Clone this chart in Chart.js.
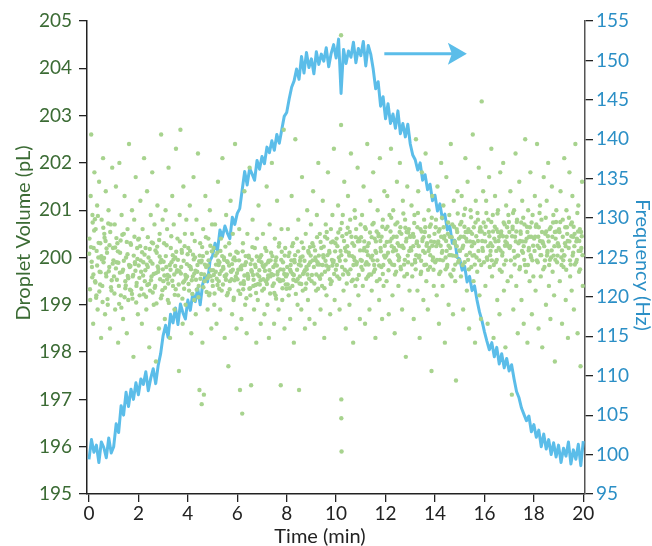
<!DOCTYPE html>
<html>
<head>
<meta charset="utf-8">
<script src="https://cdn.jsdelivr.net/npm/chart.js@4.4.1/dist/chart.umd.min.js"></script>
<style>
  html, body { margin: 0; padding: 0; background: #fff; }
</style>
</head>
<body>
<canvas id="chart" width="652" height="546"></canvas>
<script>
// tick labels
const timeTicks = [0, 2, 4, 6, 8, 10, 12, 14, 16, 18, 20];
const volumeTicks = [195, 196, 197, 198, 199, 200, 201, 202, 203, 204, 205];
const freqTicks = [95, 100, 105, 110, 115, 120, 125, 130, 135, 140, 145, 150, 155];

// frequency trace (Hz), sampled every 0.1 min
const freqTime = [
  0.0, 0.1, 0.2, 0.3, 0.4, 0.5, 0.6, 0.7, 0.8, 0.9,
  1.0, 1.1, 1.2, 1.3, 1.4, 1.5, 1.6, 1.7, 1.8, 1.9,
  2.0, 2.1, 2.2, 2.3, 2.4, 2.5, 2.6, 2.7, 2.8, 2.9,
  3.0, 3.1, 3.2, 3.3, 3.4, 3.5, 3.6, 3.7, 3.8, 3.9,
  4.0, 4.1, 4.2, 4.3, 4.4, 4.5, 4.6, 4.7, 4.8, 4.9,
  5.0, 5.1, 5.2, 5.3, 5.4, 5.5, 5.6, 5.7, 5.8, 5.9,
  6.0, 6.1, 6.2, 6.3, 6.4, 6.5, 6.6, 6.7, 6.8, 6.9,
  7.0, 7.1, 7.2, 7.3, 7.4, 7.5, 7.6, 7.7, 7.8, 7.9,
  8.0, 8.1, 8.2, 8.3, 8.4, 8.5, 8.6, 8.7, 8.8, 8.9,
  9.0, 9.1, 9.2, 9.3, 9.4, 9.5, 9.6, 9.7, 9.8, 9.9,
  10.0, 10.1, 10.2, 10.3, 10.4, 10.5, 10.6, 10.7, 10.8, 10.9,
  11.0, 11.1, 11.2, 11.3, 11.4, 11.5, 11.6, 11.7, 11.8, 11.9,
  12.0, 12.1, 12.2, 12.3, 12.4, 12.5, 12.6, 12.7, 12.8, 12.9,
  13.0, 13.1, 13.2, 13.3, 13.4, 13.5, 13.6, 13.7, 13.8, 13.9,
  14.0, 14.1, 14.2, 14.3, 14.4, 14.5, 14.6, 14.7, 14.8, 14.9,
  15.0, 15.1, 15.2, 15.3, 15.4, 15.5, 15.6, 15.7, 15.8, 15.9,
  16.0, 16.1, 16.2, 16.3, 16.4, 16.5, 16.6, 16.7, 16.8, 16.9,
  17.0, 17.1, 17.2, 17.3, 17.4, 17.5, 17.6, 17.7, 17.8, 17.9,
  18.0, 18.1, 18.2, 18.3, 18.4, 18.5, 18.6, 18.7, 18.8, 18.9,
  19.0, 19.1, 19.2, 19.3, 19.4, 19.5, 19.6, 19.7, 19.8, 19.9,
  20.0
];
const freqHz = [
  99.4, 101.9, 100.3, 101.2, 99.0, 101.6, 100.9, 99.6, 102.1, 100.2,
  101.0, 103.9, 102.8, 106.2, 105.0, 107.9, 106.1, 108.3, 107.0, 109.1,
  107.6, 109.6, 108.9, 110.5, 108.1, 109.7, 110.9, 109.0, 111.3, 112.8,
  115.1, 116.4, 114.9, 117.8, 116.7, 118.6, 116.5, 119.1, 118.0, 117.2,
  119.6, 118.3, 120.4, 119.4, 121.1, 119.0, 121.6, 122.8, 121.9, 124.6,
  125.2, 126.8, 125.9, 128.5, 127.6, 129.0, 128.1, 127.4, 130.1, 129.2,
  130.6, 131.2, 133.6, 135.9, 134.2, 136.3, 135.6, 134.8, 137.3, 136.2,
  137.8, 136.9, 139.0, 138.3, 139.8, 138.6, 140.6, 139.5, 141.2, 142.9,
  143.4, 145.1, 146.6, 147.4, 148.9, 147.6, 150.5, 148.4, 151.0, 149.1,
  150.2, 148.3, 151.1, 149.5, 150.8, 149.9, 151.6, 149.2, 150.9, 152.0,
  150.3, 152.7, 145.8, 151.4, 149.6, 151.2, 150.4, 152.3, 149.7, 151.5,
  150.6, 152.4, 149.3, 151.9, 150.8, 148.9, 146.4, 147.3, 144.2, 145.4,
  142.6, 144.5, 142.0, 143.2, 141.4, 143.6, 140.7, 142.0, 140.3, 141.9,
  139.4, 138.0, 137.4, 136.1, 137.0, 134.8, 135.5, 133.6, 134.3, 132.2,
  132.9, 130.9, 131.8, 129.9, 130.5, 128.5, 129.0, 126.8, 127.2, 125.0,
  124.8, 123.4, 123.9, 121.9, 122.6, 120.8, 121.4, 119.6, 118.1, 117.0,
  115.6, 114.4, 113.3, 114.2, 112.4, 113.6, 111.5, 112.8, 111.0, 112.2,
  110.6, 111.4, 109.6, 108.0, 107.2, 105.9, 105.1, 104.3, 104.9, 102.9,
  103.8, 102.2, 103.1, 101.0, 102.6, 100.7, 101.9, 100.0, 101.5, 99.7,
  101.2, 99.0, 100.8, 99.8, 101.6, 98.8, 100.6, 99.4, 101.3, 98.6,
  101.7
];

// droplet volume samples [time (min), volume (pL)], outer part of the cloud
const volumePoints = [
  [0.02,200.4],[0.05,199.1],[0.07,201.3],[0.09,202.6],[0.12,199.8],[0.14,200.9],[0.17,198.6],[0.19,200.2],[0.22,201.8],[0.25,199.5],[0.27,200.6],[0.30,199.2],
  [0.33,201.1],[0.35,198.9],[0.38,200.0],[0.41,201.6],[0.43,199.7],[0.46,200.3],[0.49,198.3],[0.51,200.8],[0.54,199.4],[0.57,202.1],[0.59,199.9],[0.62,200.5],
  [0.65,198.8],[0.68,201.4],[0.70,199.6],[0.73,200.1],[0.76,199.0],[0.79,201.0],[0.82,199.8],[0.85,198.5],[0.88,200.7],[0.91,199.3],[0.94,201.9],[0.97,200.2],
  [1.01,199.6],[1.04,200.7],[1.06,198.9],[1.09,201.5],[1.12,199.9],[1.15,200.3],[1.18,198.2],[1.21,199.4],[1.23,202.0],[1.26,200.1],[1.29,199.2],[1.32,200.9],
  [1.35,199.7],[1.38,198.7],[1.41,200.5],[1.44,201.3],[1.47,199.5],[1.50,200.0],[1.53,198.4],[1.56,200.6],[1.59,199.1],[1.62,202.4],[1.65,199.8],[1.68,200.3],
  [1.71,199.3],[1.74,201.0],[1.77,199.6],[1.80,197.9],[1.83,200.8],[1.86,199.9],[1.89,201.7],[1.92,199.4],[1.95,200.2],[1.98,198.8],
  [2.02,200.4],[2.05,199.2],[2.08,201.2],[2.11,199.7],[2.14,198.6],[2.17,200.6],[2.20,199.9],[2.23,202.1],[2.26,199.5],[2.29,200.2],[2.32,198.9],[2.35,201.4],
  [2.38,199.8],[2.41,200.0],[2.44,198.1],[2.47,199.3],[2.50,200.9],[2.53,199.6],[2.56,201.8],[2.59,200.3],[2.62,199.0],[2.65,200.7],[2.68,199.4],[2.71,197.8],
  [2.74,200.1],[2.77,201.1],[2.80,199.7],[2.83,198.5],[2.86,200.5],[2.89,199.9],[2.92,202.6],[2.95,199.2],[2.98,200.8],
  [3.01,199.5],[3.04,200.3],[3.07,198.7],[3.10,201.0],[3.13,199.8],[3.16,200.6],[3.19,199.1],[3.22,201.9],[3.25,199.6],[3.28,198.3],[3.31,200.2],[3.34,199.9],
  [3.37,201.3],[3.40,199.4],[3.43,200.7],[3.46,198.9],[3.49,200.0],[3.52,202.3],[3.55,199.7],[3.58,200.4],[3.61,199.2],[3.64,197.6],[3.67,200.9],[3.70,202.7],
  [3.73,199.8],[3.76,200.1],[3.79,198.6],[3.82,201.5],[3.85,199.5],[3.88,200.5],[3.91,199.0],[3.94,200.8],[3.97,199.6],
  [4.02,200.2],[4.05,199.3],[4.08,201.1],[4.11,199.8],[4.14,198.4],[4.17,200.5],[4.20,199.6],[4.23,201.7],[4.26,199.1],[4.29,200.0],[4.32,198.8],[4.35,200.8],
  [4.38,199.7],[4.41,202.2],[4.44,199.4],[4.47,197.2],[4.50,200.3],[4.53,199.9],[4.56,196.9],[4.59,198.2],[4.62,200.6],[4.65,197.1],[4.68,199.5],[4.71,201.3],
  [4.74,199.8],[4.77,200.1],[4.80,198.9],[4.83,200.4],[4.86,199.2],[4.89,201.0],[4.92,199.6],[4.95,198.5],[4.98,200.7],
  [5.01,199.4],[5.04,200.2],[5.07,199.0],[5.10,200.7],[5.13,199.7],[5.16,198.6],[5.19,200.1],[5.22,201.6],[5.25,199.5],[5.28,199.9],[5.31,198.9],[5.34,200.4],
  [5.37,199.3],[5.40,202.1],[5.43,199.8],[5.46,200.0],[5.49,198.3],[5.52,199.6],[5.55,200.9],[5.58,199.2],[5.61,199.9],[5.64,197.7],[5.67,200.3],[5.70,199.5],
  [5.73,201.2],[5.76,199.7],[5.79,198.8],[5.82,200.5],[5.85,199.1],[5.88,200.0],[5.91,202.4],[5.94,199.6],[5.97,198.5],
  [6.02,200.1],[6.05,199.3],[6.08,200.6],[6.11,197.2],[6.14,199.8],[6.17,198.7],[6.20,196.7],[6.23,200.3],[6.26,199.5],[6.29,201.4],[6.32,199.0],[6.35,199.9],
  [6.38,198.4],[6.41,200.5],[6.44,199.6],[6.47,200.0],[6.50,201.9],[6.53,199.2],[6.56,197.3],[6.59,199.7],[6.62,200.8],[6.65,199.4],[6.68,198.9],[6.71,200.2],
  [6.74,199.8],[6.77,198.2],[6.80,200.4],[6.83,199.1],[6.86,201.1],[6.89,199.6],[6.92,200.0],[6.95,198.6],[6.98,199.9],
  [7.01,199.3],[7.04,200.5],[7.07,199.8],[7.10,198.8],[7.13,200.2],[7.16,199.5],[7.19,201.5],[7.22,199.0],[7.25,199.9],[7.28,198.3],[7.31,200.7],[7.34,199.6],
  [7.37,200.1],[7.40,202.0],[7.43,199.4],[7.46,199.8],[7.49,198.6],[7.52,200.4],[7.55,199.2],[7.58,200.0],[7.61,201.2],[7.64,199.7],[7.67,198.9],[7.70,200.3],
  [7.73,199.5],[7.76,197.3],[7.79,200.6],[7.82,199.1],[7.85,199.9],[7.88,202.7],[7.91,198.5],[7.94,200.2],[7.97,199.6],
  [8.02,199.8],[8.05,200.6],[8.08,199.2],[8.11,200.1],[8.14,198.7],[8.17,199.7],[8.20,201.3],[8.23,199.4],[8.26,200.3],[8.29,198.2],[8.32,199.9],[8.35,202.5],
  [8.38,199.5],[8.41,200.4],[8.44,199.0],[8.47,200.8],[8.50,197.2],[8.53,199.6],[8.56,200.0],[8.59,198.9],[8.62,201.7],[8.65,199.3],[8.68,200.2],[8.71,199.7],
  [8.74,198.5],[8.77,200.5],[8.80,199.8],[8.83,201.0],[8.86,199.1],[8.89,200.1],[8.92,198.7],[8.95,199.9],[8.98,200.7],
  [9.01,199.5],[9.04,200.3],[9.07,201.4],[9.10,199.8],[9.13,198.6],[9.16,200.0],[9.19,199.3],[9.22,200.9],[9.25,199.9],[9.28,202.0],[9.31,199.6],[9.34,200.5],
  [9.37,198.9],[9.40,200.2],[9.43,199.4],[9.46,201.2],[9.49,200.0],[9.52,198.3],[9.55,199.7],[9.58,200.7],[9.61,199.2],[9.64,200.4],[9.67,201.8],[9.70,199.8],
  [9.73,200.1],[9.76,198.8],[9.79,200.6],[9.82,199.5],[9.85,200.9],[9.88,199.9],[9.91,202.3],[9.94,199.1],[9.97,200.3],
  [10.02,200.4],[10.05,199.6],[10.08,201.1],[10.11,200.0],[10.14,198.9],[10.17,200.6],[10.20,204.7],[10.20,202.8],[10.21,197.0],[10.21,196.6],[10.22,195.9],[10.24,199.8],
  [10.27,200.9],[10.30,199.3],[10.33,201.6],[10.36,200.2],[10.39,198.5],[10.42,200.5],[10.45,199.7],[10.48,201.3],[10.51,200.1],[10.54,199.0],[10.57,200.8],[10.60,202.2],
  [10.63,199.5],[10.66,200.3],[10.69,198.2],[10.72,200.0],[10.75,201.0],[10.78,199.4],[10.81,200.6],[10.84,199.9],[10.87,201.9],[10.90,199.2],[10.93,200.4],[10.96,198.7],[10.99,200.7],
  [11.02,199.8],[11.05,200.9],[11.08,199.4],[11.11,201.5],[11.14,200.2],[11.17,198.6],[11.20,200.6],[11.23,199.9],[11.26,202.4],[11.29,199.6],[11.32,200.3],[11.35,198.9],
  [11.38,201.2],[11.41,200.0],[11.44,199.3],[11.47,200.7],[11.50,201.8],[11.53,199.7],[11.56,200.4],[11.59,198.3],[11.62,200.1],[11.65,199.5],[11.68,201.0],[11.71,200.5],
  [11.74,199.1],[11.77,202.1],[11.80,200.2],[11.83,199.8],[11.86,198.7],[11.89,200.8],[11.92,199.4],[11.95,201.4],[11.98,200.0],
  [12.01,200.6],[12.04,199.5],[12.07,201.3],[12.10,200.1],[12.13,198.8],[12.16,200.9],[12.19,199.9],[12.22,202.3],[12.25,200.4],[12.28,199.2],[12.31,201.0],[12.34,200.2],
  [12.37,198.4],[12.40,200.7],[12.43,199.7],[12.46,201.6],[12.49,200.3],[12.52,199.4],[12.55,200.0],[12.58,202.0],[12.61,199.8],[12.64,200.5],[12.67,198.9],[12.70,201.2],
  [12.73,200.2],[12.76,199.6],[12.79,200.8],[12.82,197.9],[12.85,200.4],[12.88,201.5],[12.91,199.9],[12.94,200.6],[12.97,199.3],
  [13.02,200.2],[13.05,201.1],[13.08,199.6],[13.11,200.5],[13.14,198.7],[13.17,200.9],[13.20,199.9],[13.23,202.5],[13.26,200.3],[13.29,199.3],[13.32,201.4],[13.35,200.0],
  [13.38,198.3],[13.41,200.6],[13.44,199.7],[13.47,201.8],[13.50,200.4],[13.53,199.1],[13.56,200.8],[13.59,200.1],[13.62,202.2],[13.65,199.5],[13.68,200.3],[13.71,198.9],
  [13.74,201.0],[13.77,200.2],[13.80,199.8],[13.83,200.7],[13.86,197.6],[13.89,201.3],[13.92,200.0],[13.95,199.4],[13.98,200.5],
  [14.01,199.9],[14.04,200.8],[14.07,199.2],[14.10,201.5],[14.13,200.3],[14.16,198.6],[14.19,200.6],[14.22,199.7],[14.25,202.0],[14.28,200.1],[14.31,199.4],[14.34,201.1],
  [14.37,200.4],[14.40,198.2],[14.43,200.0],[14.46,201.7],[14.49,199.8],[14.52,200.5],[14.55,199.0],[14.58,200.9],[14.61,200.2],[14.64,202.4],[14.67,199.6],[14.70,200.7],
  [14.73,198.8],[14.76,201.2],[14.79,200.3],[14.82,199.5],[14.85,197.4],[14.88,200.6],[14.91,201.4],[14.94,199.9],[14.97,200.4],
  [15.02,200.7],[15.05,199.6],[15.08,201.3],[15.11,200.2],[15.14,198.9],[15.17,200.9],[15.20,199.9],[15.23,202.1],[15.26,200.4],[15.29,199.3],[15.32,201.6],[15.35,200.6],
  [15.38,198.5],[15.41,200.1],[15.44,201.0],[15.47,199.8],[15.50,200.5],[15.53,202.6],[15.56,199.5],[15.59,200.3],[15.62,198.2],[15.65,201.2],[15.68,200.0],[15.71,199.7],
  [15.74,200.8],[15.77,201.9],[15.80,199.2],[15.83,200.6],[15.86,198.7],[15.89,203.3],[15.92,200.2],[15.95,201.4],[15.98,199.9],
  [16.01,200.5],[16.04,199.4],[16.07,201.2],[16.10,200.0],[16.13,198.6],[16.16,200.8],[16.19,201.7],[16.22,199.8],[16.25,200.3],[16.28,202.3],[16.31,199.6],[16.34,200.9],
  [16.37,198.3],[16.40,200.4],[16.43,201.3],[16.46,199.9],[16.49,200.6],[16.52,199.1],[16.55,201.0],[16.58,200.2],[16.61,198.8],[16.64,201.8],[16.67,200.5],[16.70,199.7],
  [16.73,200.1],[16.76,202.0],[16.79,199.3],[16.82,200.7],[16.85,198.1],[16.88,201.1],[16.91,200.3],[16.94,199.5],[16.97,200.9],
  [17.02,200.2],[17.05,201.4],[17.08,199.6],[17.11,197.1],[17.14,200.6],[17.17,198.9],[17.20,201.0],[17.23,200.0],[17.26,202.2],[17.29,199.4],[17.32,200.8],[17.35,198.4],
  [17.38,200.3],[17.41,201.6],[17.44,199.8],[17.47,200.5],[17.50,199.1],[17.53,201.2],[17.56,200.1],[17.59,198.6],[17.62,200.7],[17.65,202.5],[17.68,199.7],[17.71,200.4],
  [17.74,198.2],[17.77,201.0],[17.80,200.2],[17.83,199.5],[17.86,201.8],[17.89,200.0],[17.92,198.8],[17.95,200.9],[17.98,199.6],
  [18.01,200.4],[18.04,201.3],[18.07,199.3],[18.10,200.7],[18.13,202.4],[18.16,199.9],[18.19,198.5],[18.22,200.2],[18.25,201.1],[18.28,199.6],[18.31,200.8],[18.34,198.1],
  [18.37,200.3],[18.40,201.7],[18.43,199.8],[18.46,200.5],[18.49,199.0],[18.52,201.2],[18.55,200.1],[18.58,202.0],[18.61,199.4],[18.64,200.6],[18.67,198.7],[18.70,200.0],
  [18.73,201.5],[18.76,199.7],[18.79,200.9],[18.82,199.2],[18.85,197.8],[18.88,200.4],[18.91,201.0],[18.94,199.9],[18.97,200.3],
  [19.02,200.6],[19.05,199.5],[19.08,201.4],[19.11,200.0],[19.14,198.6],[19.17,200.8],[19.20,199.8],[19.23,202.1],[19.26,200.3],[19.29,199.1],[19.32,201.0],[19.35,200.5],
  [19.38,198.3],[19.41,200.2],[19.44,201.8],[19.47,199.6],[19.50,200.7],[19.53,199.3],[19.56,201.3],[19.59,200.1],[19.62,198.9],[19.65,200.5],[19.68,202.4],[19.71,199.9],
  [19.74,200.4],[19.77,198.4],[19.80,201.1],[19.83,199.7],[19.86,200.6],[19.89,197.7],[19.92,200.2],[19.95,201.6],[19.98,199.4]
];

// droplet volume samples [time (min), volume (pL)], dense core of the cloud
const volumeCore = [
  [0.04,199.33],[0.21,200.57],[0.11,199.91],[0.36,200.88],[0.29,199.15],[0.08,200.22],[0.47,199.69],[0.15,200.74],[0.55,199.06],[0.33,199.83],[0.63,200.42],[0.26,199.47],
  [0.71,200.19],[0.42,199.28],[0.58,200.63],[0.80,199.71],[0.67,200.35],[0.92,199.52],[0.01,200.08],[0.18,199.64],[0.39,200.31],[0.52,199.96],[0.75,199.12],[0.86,200.54],
  [0.96,199.87],[0.24,200.81],[0.45,199.43],[0.61,199.99],[0.83,200.26],[0.13,199.58],[0.50,200.03],[0.89,199.37],[0.31,200.14],[0.69,199.66],[0.78,200.72],[0.99,199.94],
  [1.03,199.24],[1.17,200.13],[1.09,199.77],[1.28,200.36],[1.22,199.02],[1.41,199.93],[1.35,200.48],[1.49,199.41],[1.56,200.07],[1.44,199.16],[1.62,199.84],[1.70,200.27],
  [1.66,199.32],[1.79,199.63],[1.84,200.44],[1.91,199.05],[1.96,199.97],[1.13,199.53],[1.06,200.21],[1.25,199.68],[1.31,198.94],[1.38,199.74],[1.53,200.33],[1.59,199.56],
  [1.74,199.23],[1.81,200.04],[1.88,199.72],[1.99,200.38],[1.19,199.89],[1.47,199.35],[1.68,199.82],[1.93,199.46],[1.11,200.41],[1.57,199.61],[1.76,199.13],[1.86,199.86],
  [2.01,199.83],[2.12,199.34],[2.07,200.24],[2.19,199.62],[2.25,200.06],[2.31,199.17],[2.28,199.73],[2.38,200.43],[2.43,199.44],[2.49,199.92],[2.54,200.32],[2.58,199.26],
  [2.62,199.65],[2.69,200.15],[2.73,199.03],[2.78,199.81],[2.84,200.37],[2.88,199.54],[2.93,199.95],[2.97,199.31],[2.04,199.57],[2.15,200.11],[2.22,199.22],[2.34,199.85],
  [2.46,200.18],[2.51,199.52],[2.66,199.36],[2.76,200.23],[2.81,199.76],[2.91,199.14],[2.09,199.94],[2.36,199.42],[2.57,199.87],[2.71,199.67],[2.86,200.02],[2.99,199.75],
  [3.02,199.91],[3.08,199.36],[3.14,200.26],[3.18,199.63],[3.23,199.04],[3.27,199.84],[3.33,200.45],[3.37,199.51],[3.42,199.96],[3.47,199.21],[3.53,200.12],[3.57,199.73],
  [3.63,199.43],[3.68,200.34],[3.72,199.66],[3.78,199.13],[3.83,199.93],[3.87,200.24],[3.92,199.55],[3.96,199.86],[3.05,199.62],[3.11,200.03],[3.21,199.45],[3.30,199.74],
  [3.39,200.05],[3.45,199.64],[3.51,199.33],[3.60,199.95],[3.66,199.71],[3.75,200.16],[3.81,199.47],[3.90,199.63],[3.99,200.07],[3.16,199.54],[3.49,199.82],[3.85,199.34],
  [4.03,199.44],[4.09,200.14],[4.13,199.75],[4.18,199.23],[4.24,199.96],[4.28,200.35],[4.33,199.53],[4.39,199.84],[4.43,199.16],[4.48,200.04],[4.54,199.65],[4.58,200.22],
  [4.63,199.37],[4.69,199.85],[4.73,200.43],[4.79,199.56],[4.84,199.94],[4.88,199.24],[4.93,199.73],[4.97,200.13],[4.06,199.82],[4.16,199.52],[4.21,200.06],[4.31,199.72],
  [4.36,199.32],[4.46,199.92],[4.51,199.55],[4.61,200.03],[4.66,199.64],[4.76,199.27],[4.81,199.83],[4.91,200.25],[4.99,199.51],[4.26,199.66],[4.56,199.93],[4.86,199.62],
  [5.02,199.73],[5.08,199.24],[5.12,200.04],[5.17,199.55],[5.23,199.93],[5.27,199.34],[5.32,200.14],[5.36,199.72],[5.42,199.43],[5.47,199.95],[5.52,200.23],[5.56,199.64],
  [5.62,199.25],[5.67,199.83],[5.71,200.06],[5.77,199.54],[5.82,199.74],[5.86,199.15],[5.92,199.94],[5.96,200.12],[5.05,199.63],[5.14,199.85],[5.20,199.42],[5.29,199.65],
  [5.39,200.03],[5.44,199.76],[5.54,199.53],[5.59,199.92],[5.69,199.33],[5.74,199.71],[5.84,199.96],[5.89,199.52],[5.99,199.67],[5.25,199.84],[5.49,199.61],[5.79,199.86],
  [6.01,199.54],[6.07,199.94],[6.12,199.23],[6.16,199.75],[6.22,200.13],[6.27,199.44],[6.31,199.84],[6.37,199.14],[6.42,199.65],[6.46,200.04],[6.52,199.35],[6.57,199.73],
  [6.61,200.22],[6.66,199.53],[6.72,199.85],[6.76,199.25],[6.81,199.64],[6.87,199.93],[6.91,199.43],[6.97,200.05],[6.04,199.74],[6.14,199.45],[6.19,199.83],[6.29,199.62],
  [6.34,200.03],[6.44,199.55],[6.49,199.34],[6.59,199.95],[6.64,199.63],[6.74,199.42],[6.79,200.02],[6.89,199.73],[6.94,199.52],[6.24,199.33],[6.54,199.86],[6.84,199.44],
  [7.03,199.83],[7.08,199.34],[7.12,199.72],[7.18,200.14],[7.23,199.55],[7.27,199.93],[7.33,199.24],[7.38,199.65],[7.42,200.03],[7.48,199.45],[7.53,199.84],[7.57,199.13],
  [7.62,199.64],[7.68,200.23],[7.72,199.53],[7.78,199.95],[7.83,199.35],[7.87,199.74],[7.92,200.04],[7.96,199.43],[7.05,199.54],[7.15,199.85],[7.20,199.44],[7.30,199.73],
  [7.35,199.94],[7.45,199.63],[7.50,199.25],[7.60,199.83],[7.65,199.54],[7.75,199.75],[7.80,200.12],[7.90,199.65],[7.99,199.34],[7.25,199.62],[7.55,199.93],[7.85,199.52],
  [8.01,199.64],[8.07,200.03],[8.12,199.35],[8.16,199.84],[8.22,200.24],[8.27,199.53],[8.31,199.95],[8.37,199.23],[8.42,199.74],[8.46,200.13],[8.52,199.45],[8.57,199.83],
  [8.61,200.32],[8.66,199.65],[8.72,199.93],[8.76,199.34],[8.81,199.75],[8.87,200.14],[8.91,199.55],[8.97,200.04],[8.04,199.43],[8.14,199.74],[8.19,199.94],[8.29,199.63],
  [8.34,200.05],[8.44,199.54],[8.49,199.85],[8.59,199.44],[8.64,200.02],[8.74,199.73],[8.79,199.45],[8.89,199.84],[8.94,200.22],[8.24,199.65],[8.54,199.93],[8.84,199.64],
  [9.02,199.63],[9.08,200.24],[9.12,199.45],[9.18,199.94],[9.23,200.43],[9.27,199.34],[9.33,199.85],[9.37,200.33],[9.42,199.64],[9.48,200.05],[9.53,199.35],[9.57,199.93],
  [9.62,200.54],[9.68,199.75],[9.72,200.14],[9.78,199.44],[9.83,199.95],[9.87,200.34],[9.92,199.65],[9.96,200.13],[9.05,199.94],[9.15,200.15],[9.20,199.64],[9.30,200.04],
  [9.35,199.55],[9.45,199.84],[9.50,200.23],[9.60,199.83],[9.65,200.05],[9.75,199.54],[9.80,200.32],[9.90,199.93],[9.99,199.74],[9.25,199.85],[9.55,200.44],[9.85,199.83],
  [10.03,199.84],[10.09,200.53],[10.13,199.55],[10.18,200.14],[10.23,200.73],[10.28,199.64],[10.32,200.35],[10.38,199.94],[10.43,199.45],[10.47,200.63],[10.53,200.04],[10.58,199.75],
  [10.62,200.44],[10.68,199.53],[10.73,200.25],[10.77,200.84],[10.82,199.85],[10.88,200.34],[10.92,199.63],[10.97,200.15],[10.05,200.24],[10.15,199.93],[10.25,200.45],[10.35,199.74],
  [10.40,200.13],[10.50,199.65],[10.55,200.54],[10.65,200.03],[10.70,199.84],[10.80,200.43],[10.85,199.54],[10.95,200.35],[10.99,199.95],[10.21,200.05],[10.45,200.24],[10.75,199.94],
  [11.01,200.43],[11.07,199.74],[11.12,200.15],[11.17,200.64],[11.22,199.55],[11.27,200.24],[11.31,199.85],[11.37,200.53],[11.42,199.64],[11.46,200.04],[11.52,200.73],[11.57,199.75],
  [11.61,200.34],[11.67,199.94],[11.72,200.45],[11.76,199.54],[11.81,200.13],[11.87,200.65],[11.91,199.84],[11.97,200.25],[11.04,199.93],[11.14,200.34],[11.19,199.85],[11.29,200.05],
  [11.34,199.64],[11.44,200.43],[11.49,199.94],[11.59,200.14],[11.64,200.55],[11.74,199.83],[11.79,200.35],[11.89,199.65],[11.94,200.04],[11.24,200.13],[11.54,199.84],[11.84,200.44],
  [12.03,200.04],[12.08,200.65],[12.12,199.73],[12.18,200.34],[12.23,200.84],[12.27,199.85],[12.33,200.44],[12.38,199.64],[12.42,200.15],[12.48,200.74],[12.53,199.94],[12.57,200.54],
  [12.62,199.75],[12.68,200.25],[12.72,200.93],[12.78,199.95],[12.83,200.34],[12.87,199.65],[12.92,200.53],[12.96,200.14],[12.05,200.33],[12.15,199.94],[12.20,200.55],[12.30,200.13],
  [12.35,199.84],[12.45,200.44],[12.50,200.05],[12.60,200.64],[12.65,200.23],[12.75,199.85],[12.80,200.63],[12.90,200.04],[12.99,200.45],[12.25,200.24],[12.55,200.25],[12.85,200.54],
  [13.01,200.44],[13.07,199.85],[13.12,200.24],[13.16,200.73],[13.22,199.75],[13.27,200.34],[13.31,200.94],[13.37,200.04],[13.42,199.65],[13.46,200.55],[13.52,200.14],[13.57,199.84],
  [13.61,200.64],[13.66,200.25],[13.72,199.74],[13.76,200.45],[13.81,200.05],[13.87,200.84],[13.91,199.94],[13.97,200.33],[13.04,200.15],[13.14,200.44],[13.19,199.95],[13.29,200.64],
  [13.34,200.24],[13.44,199.93],[13.49,200.35],[13.59,200.54],[13.64,199.85],[13.74,200.14],[13.79,200.65],[13.89,200.25],[13.94,199.74],[13.24,200.05],[13.54,200.43],[13.84,200.34],
  [14.03,200.64],[14.08,199.95],[14.13,200.34],[14.17,199.65],[14.23,200.25],[14.28,200.84],[14.32,199.94],[14.38,200.45],[14.43,199.75],[14.47,200.14],[14.53,200.74],[14.58,200.05],
  [14.62,199.64],[14.68,200.43],[14.73,200.04],[14.77,200.65],[14.82,199.85],[14.88,200.24],[14.92,200.93],[14.97,199.94],[14.05,200.24],[14.15,200.55],[14.20,199.95],[14.30,200.14],
  [14.35,200.64],[14.45,200.35],[14.50,199.84],[14.60,200.44],[14.65,200.05],[14.75,199.74],[14.80,200.34],[14.90,200.54],[14.99,200.15],[14.25,200.44],[14.55,200.25],[14.85,200.03],
  [15.01,200.14],[15.07,200.75],[15.12,199.84],[15.17,200.44],[15.22,201.03],[15.27,200.05],[15.31,200.54],[15.37,199.75],[15.42,200.34],[15.46,200.85],[15.52,200.04],[15.57,200.64],
  [15.61,199.85],[15.67,200.45],[15.72,200.94],[15.76,200.14],[15.81,200.55],[15.87,199.84],[15.91,200.35],[15.97,200.74],[15.04,200.44],[15.14,200.25],[15.19,200.65],[15.29,200.34],
  [15.34,199.95],[15.44,200.54],[15.49,200.24],[15.59,200.05],[15.64,200.74],[15.74,200.35],[15.79,199.94],[15.89,200.55],[15.94,200.14],[15.24,200.54],[15.54,200.33],[15.84,200.64],
  [16.03,200.34],[16.08,200.94],[16.12,199.95],[16.18,200.54],[16.23,200.05],[16.28,200.75],[16.32,200.24],[16.38,199.84],[16.42,200.65],[16.48,200.14],[16.53,200.93],[16.57,200.35],
  [16.62,199.74],[16.68,200.55],[16.72,200.04],[16.78,200.74],[16.83,200.25],[16.87,199.94],[16.92,200.64],[16.96,200.24],[16.05,200.65],[16.15,200.24],[16.20,200.45],[16.30,199.94],
  [16.35,200.55],[16.45,200.34],[16.50,199.95],[16.60,200.44],[16.65,200.15],[16.75,200.45],[16.80,199.85],[16.90,200.44],[16.99,200.75],[16.25,200.14],[16.55,200.54],[16.85,200.34],
  [17.01,200.54],[17.07,199.94],[17.12,200.45],[17.16,200.94],[17.22,199.85],[17.27,200.34],[17.31,200.75],[17.37,200.04],[17.42,199.75],[17.46,200.55],[17.52,200.14],[17.57,200.84],
  [17.61,199.95],[17.66,200.34],[17.72,200.65],[17.76,199.84],[17.81,200.44],[17.87,200.05],[17.91,200.74],[17.97,200.25],[17.04,200.24],[17.14,200.65],[17.19,200.14],[17.29,200.55],
  [17.34,200.04],[17.44,200.35],[17.49,200.74],[17.59,200.24],[17.64,199.84],[17.74,200.54],[17.79,200.15],[17.89,200.44],[17.94,199.94],[17.24,200.44],[17.54,200.34],[17.84,200.64],
  [18.03,200.14],[18.08,200.65],[18.12,199.94],[18.18,200.44],[18.23,200.94],[18.27,200.05],[18.33,200.54],[18.38,199.75],[18.42,200.24],[18.48,200.84],[18.53,200.04],[18.57,200.45],
  [18.62,199.84],[18.68,200.64],[18.72,200.15],[18.78,200.74],[18.83,200.24],[18.87,199.95],[18.92,200.55],[18.96,200.04],[18.05,200.44],[18.15,200.25],[18.20,200.64],[18.30,200.05],
  [18.35,200.34],[18.45,199.94],[18.50,200.55],[18.60,200.34],[18.65,199.95],[18.75,200.44],[18.80,200.04],[18.90,200.75],[18.99,200.24],[18.25,200.35],[18.55,200.14],[18.85,200.54],
  [19.01,200.24],[19.07,200.75],[19.12,199.84],[19.17,200.44],[19.22,200.05],[19.27,200.64],[19.31,199.74],[19.37,200.35],[19.42,200.84],[19.46,199.94],[19.52,200.45],[19.57,200.04],
  [19.61,200.65],[19.66,199.85],[19.72,200.34],[19.76,200.94],[19.81,200.14],[19.87,199.75],[19.91,200.54],[19.97,200.05],[19.04,200.54],[19.14,200.15],[19.19,199.94],[19.29,200.24],
  [19.34,200.64],[19.44,200.34],[19.49,199.85],[19.59,200.44],[19.64,200.24],[19.74,199.95],[19.79,200.55],[19.89,200.14],[19.94,200.45],[19.24,200.04],[19.54,200.74],[19.84,200.35]
];

// arrow pointing to the frequency axis
const arrowTime = [11.95, 15.29];
const arrowHz = 150.85;

const GREEN_TEXT = '#3b6b34';
const BLUE_TEXT = '#2b8fc6';
const DOT = '#a7d38e';
const LINE = '#5bbde9';
const AXIS = '#222';
const FONT = 'Lato, "Open Sans", sans-serif';

const tickFont = { family: FONT, size: 19 };

const arrowPlugin = {
    id: 'freqArrow',
    afterDatasetsDraw(chart) {
        const ctx = chart.ctx;
        const x0 = chart.scales.x.getPixelForValue(arrowTime[0]);
        const x1 = chart.scales.x.getPixelForValue(arrowTime[1]);
        const y = chart.scales.y1.getPixelForValue(arrowHz);
        ctx.save();
        ctx.strokeStyle = LINE;
        ctx.fillStyle = LINE;
        ctx.lineWidth = 3;
        ctx.beginPath();
        ctx.moveTo(x0, y);
        ctx.lineTo(x1 - 14, y);
        ctx.stroke();
        ctx.beginPath();
        ctx.moveTo(x1, y);
        ctx.lineTo(x1 - 19, y - 11);
        ctx.lineTo(x1 - 15, y);
        ctx.lineTo(x1 - 19, y + 11);
        ctx.closePath();
        ctx.fill();
        ctx.restore();
    }
};

const titlePlugin = {
    id: 'axisTitles',
    afterDraw(chart) {
        const ctx = chart.ctx;
        ctx.save();
        ctx.font = `20px ${FONT}`;
        ctx.textAlign = 'center';
        ctx.textBaseline = 'alphabetic';
        ctx.fillStyle = '#222';
        ctx.fillText('Time (min)', 320, 543);

        ctx.save();
        ctx.translate(30, 233);
        ctx.rotate(-Math.PI / 2);
        ctx.fillStyle = GREEN_TEXT;
        ctx.fillText('Droplet Volume (pL)', 0, 0);
        ctx.restore();

        ctx.save();
        ctx.translate(636, 265);
        ctx.rotate(Math.PI / 2);
        ctx.fillStyle = BLUE_TEXT;
        ctx.fillText('Frequency (Hz)', 0, 0);
        ctx.restore();
        ctx.restore();
    }
};

const tickGrid = {
    drawOnChartArea: false,
    drawTicks: true,
    tickLength: 8,
    color: AXIS,
    lineWidth: 1.3
};

const toXY = pts => pts.map(p => ({ x: p[0], y: p[1] }));

let config = {
    type: 'scatter',
    data: {
        datasets: [{
            label: 'Droplet Volume',
            data: toXY(volumePoints).concat(toXY(volumeCore)),
            yAxisID: 'y',
            backgroundColor: DOT,
            borderWidth: 0,
            pointRadius: 2.2,
            order: 1
        }, {
            label: 'Frequency',
            data: freqTime.map((t, i) => ({ x: t, y: freqHz[i] })),
            yAxisID: 'y1',
            showLine: true,
            borderColor: LINE,
            borderWidth: 3,
            borderJoinStyle: 'round',
            pointRadius: 0,
            tension: 0,
            order: 2
        }]
    },
    options: {
        responsive: false,
        animation: false,
        devicePixelRatio: 1,
        layout: { padding: { top: 21, left: 0, right: 0, bottom: 0 } },
        plugins: {
            legend: { display: false },
            tooltip: { enabled: false }
        },
        scales: {
            x: {
                type: 'linear',
                min: -0.08,
                max: 20.07,
                afterBuildTicks: s => { s.ticks = timeTicks.map(v => ({ value: v })); },
                afterFit: s => { s.height = 52; },
                ticks: { color: '#222', font: tickFont, padding: 0, maxRotation: 0, autoSkip: false },
                grid: tickGrid,
                border: { display: true, color: AXIS, width: 1.5 }
            },
            y: {
                position: 'left',
                min: 195,
                max: 205,
                afterBuildTicks: s => { s.ticks = volumeTicks.map(v => ({ value: v })); },
                afterFit: s => { s.width = 87; },
                ticks: { color: GREEN_TEXT, font: tickFont, padding: 7 },
                grid: tickGrid,
                border: { display: true, color: AXIS, width: 1.5 }
            },
            y1: {
                position: 'right',
                min: 95,
                max: 155,
                afterBuildTicks: s => { s.ticks = freqTicks.map(v => ({ value: v })); },
                afterFit: s => { s.width = 67; },
                ticks: { color: BLUE_TEXT, font: tickFont, padding: 3 },
                grid: tickGrid,
                border: { display: true, color: '#555', width: 1.5 }
            }
        }
    },
    plugins: [arrowPlugin, titlePlugin]
};

new Chart(document.getElementById('chart'), config);
</script>
</body>
</html>
